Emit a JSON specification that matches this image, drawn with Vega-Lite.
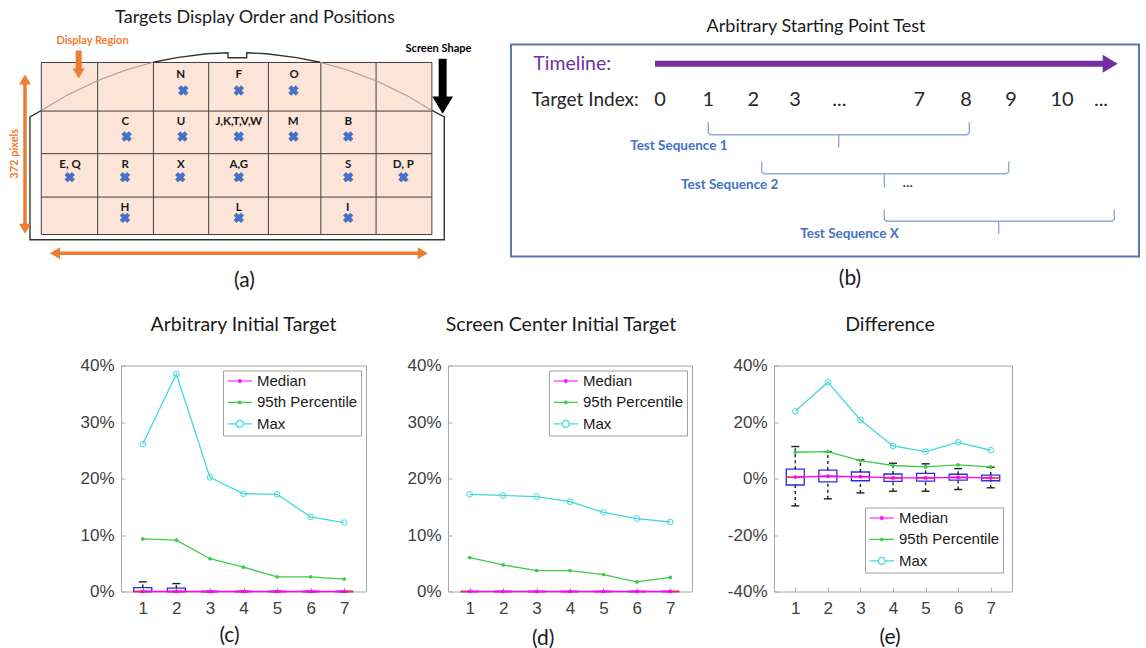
{
  "$schema": "https://vega.github.io/schema/vega-lite/v6.json",
  "background": "white",
  "padding": {"left": 0, "top": 8.5, "right": 0, "bottom": 2},
  "bounds": "flush",
  "spacing": 321,
  "config": {
    "axis": {"labelFont": "Liberation Sans", "labelFontSize": 17, "labelColor": "#404040", "ticks": false, "domain": false, "grid": false, "titleFont": "Lato", "titleFontSize": 21, "titleFontWeight": "normal", "titleColor": "#1a1a1a", "titleBaseline": "alphabetic", "titleAlign": "center"},
    "title": {"font": "Lato", "fontWeight": "normal", "color": "#1a1a1a", "baseline": "alphabetic", "frame": "group", "anchor": "middle"}
  },
  "datasets": {
    "a_bg": [{"x": 0, "x2": 7, "y": 0, "y2": 4}],
    "a_vl": [{"x": 0, "y": 0, "y2": 4}, {"x": 1.01, "y": 0, "y2": 4}, {"x": 2.01, "y": 0, "y2": 4}, {"x": 3, "y": 0, "y2": 4}, {"x": 4.07, "y": 0, "y2": 4}, {"x": 5.01, "y": 0, "y2": 4}, {"x": 6, "y": 0, "y2": 4}, {"x": 7, "y": 0, "y2": 4}],
    "a_hl": [{"y": 0, "x": 0, "x2": 7}, {"y": 1.13, "x": 0, "x2": 7}, {"y": 2.12, "x": 0, "x2": 7}, {"y": 3.13, "x": 0, "x2": 7}, {"y": 4, "x": 0, "x2": 7}],
    "a_outline": [
      {"part": "frame", "o": 0, "x": 0, "y": 1.116}, {"part": "frame", "o": 1, "x": -0.2025, "y": 1.263}, {"part": "frame", "o": 2, "x": -0.2025, "y": 4.123},
      {"part": "frame", "o": 3, "x": 7.222, "y": 4.123}, {"part": "frame", "o": 4, "x": 7.222, "y": 1.263}, {"part": "frame", "o": 5, "x": 7.0, "y": 1.116},
      {"part": "top", "o": 0, "x": 2.007, "y": -0.005}, {"part": "top", "o": 1, "x": 2.427, "y": -0.114}, {"part": "top", "o": 2, "x": 2.964, "y": -0.202},
      {"part": "top", "o": 3, "x": 3.346, "y": -0.228}, {"part": "top", "o": 4, "x": 3.346, "y": -0.109}, {"part": "top", "o": 5, "x": 3.681, "y": -0.109},
      {"part": "top", "o": 6, "x": 3.681, "y": -0.228}, {"part": "top", "o": 7, "x": 4.039, "y": -0.202}, {"part": "top", "o": 8, "x": 4.577, "y": -0.114},
      {"part": "top", "o": 9, "x": 4.996, "y": -0.005},
      {"part": "arcL", "o": 0, "x": 0, "y": 1.116}, {"part": "arcL", "o": 1, "x": 0.455, "y": 0.765}, {"part": "arcL", "o": 2, "x": 0.993, "y": 0.43},
      {"part": "arcL", "o": 3, "x": 1.53, "y": 0.17}, {"part": "arcL", "o": 4, "x": 2.007, "y": -0.005},
      {"part": "arcR", "o": 0, "x": 4.996, "y": -0.005}, {"part": "arcR", "o": 1, "x": 5.473, "y": 0.17}, {"part": "arcR", "o": 2, "x": 6.011, "y": 0.43},
      {"part": "arcR", "o": 3, "x": 6.548, "y": 0.765}, {"part": "arcR", "o": 4, "x": 7.0, "y": 1.116}
    ],
    "a_targets": [
      {"t": "N", "x": 2.545, "y": 0.651}, {"t": "F", "x": 3.54, "y": 0.651}, {"t": "O", "x": 4.52, "y": 0.651},
      {"t": "C", "x": 1.53, "y": 1.721}, {"t": "U", "x": 2.53, "y": 1.721}, {"t": "J,K,T,V,W", "x": 3.54, "y": 1.721}, {"t": "M", "x": 4.52, "y": 1.721}, {"t": "B", "x": 5.5, "y": 1.721},
      {"t": "E, Q", "x": 0.51, "y": 2.667}, {"t": "R", "x": 1.5, "y": 2.667}, {"t": "X", "x": 2.49, "y": 2.667}, {"t": "A,G", "x": 3.54, "y": 2.667}, {"t": "S", "x": 5.5, "y": 2.667}, {"t": "D, P", "x": 6.49, "y": 2.667},
      {"t": "H", "x": 1.5, "y": 3.612}, {"t": "L", "x": 3.54, "y": 3.612}, {"t": "I", "x": 5.5, "y": 3.612}
    ],
    "a_labels": [
      {"t": "N", "x": 2.5, "y": 0.356}, {"t": "F", "x": 3.54, "y": 0.356}, {"t": "O", "x": 4.53, "y": 0.356},
      {"t": "C", "x": 1.505, "y": 1.465}, {"t": "U", "x": 2.504, "y": 1.465}, {"t": "J,K,T,V,W", "x": 3.54, "y": 1.465}, {"t": "M", "x": 4.516, "y": 1.465}, {"t": "B", "x": 5.5, "y": 1.465},
      {"t": "E, Q", "x": 0.514, "y": 2.458}, {"t": "R", "x": 1.505, "y": 2.458}, {"t": "X", "x": 2.5, "y": 2.458}, {"t": "A,G", "x": 3.54, "y": 2.458}, {"t": "S", "x": 5.5, "y": 2.458}, {"t": "D, P", "x": 6.487, "y": 2.458},
      {"t": "H", "x": 1.5, "y": 3.458}, {"t": "L", "x": 3.54, "y": 3.458}, {"t": "I", "x": 5.49, "y": 3.458}
    ],
    "a_shafts": [
      {"a": "region", "x": 0.67, "y": -0.279, "x2": 0.67, "y2": 0.2},
      {"a": "height", "x": -0.292, "y": 0.45, "x2": -0.292, "y2": 3.83},
      {"a": "width", "x": 0.33, "y": 4.435, "x2": 6.75, "y2": 4.435},
      {"a": "screen", "x": 7.193, "y": -0.086, "x2": 7.193, "y2": 0.85}
    ],
    "a_heads": [
      {"a": "region", "dir": "down", "x": 0.67, "y": 0.372},
      {"a": "height", "dir": "up", "x": -0.292, "y": 0.279},
      {"a": "height", "dir": "down", "x": -0.292, "y": 3.984},
      {"a": "width", "dir": "left", "x": 0.156, "y": 4.435},
      {"a": "width", "dir": "right", "x": 6.925, "y": 4.435},
      {"a": "screen", "dir": "down", "x": 7.193, "y": 1.193}
    ],
    "a_notes": [
      {"a": "region", "t": "Display Region", "x": 0.918, "y": -0.419},
      {"a": "screen", "t": "Screen Shape", "x": 7.118, "y": -0.24}
    ],
    "a_side": [{"t": "372 pixels", "x": -0.471, "y": 2.123}],
    "b_timeline": [{"x": -0.109, "x2": 9.7, "y": 0.42}],
    "b_tip": [{"x": 9.95, "y": 0.42}],
    "b_heads": [
      {"k": "timeline", "t": "Timeline:", "x": -2.754, "y": 0.42},
      {"k": "index", "t": "Target Index:", "x": -2.79, "y": 1.217}
    ],
    "b_index": [
      {"t": "0", "x": 0, "y": 1.217}, {"t": "1", "x": 1.05, "y": 1.217}, {"t": "2", "x": 2.028, "y": 1.217}, {"t": "3", "x": 2.935, "y": 1.217},
      {"t": "...", "x": 3.898, "y": 1.217}, {"t": "7", "x": 5.637, "y": 1.217}, {"t": "8", "x": 6.652, "y": 1.217}, {"t": "9", "x": 7.63, "y": 1.217},
      {"t": "10", "x": 8.739, "y": 1.217}, {"t": "...", "x": 9.587, "y": 1.217}
    ],
    "b_braces": [
      {"b": 1, "o": 0, "x": 1.05, "y": 1.689}, {"b": 1, "o": 1, "x": 1.05, "y": 1.92}, {"b": 1, "o": 2, "x": 1.1, "y": 1.963}, {"b": 1, "o": 3, "x": 3.885, "y": 1.963},
      {"b": 1, "o": 4, "x": 3.885, "y": 2.233}, {"b": 1, "o": 5, "x": 3.885, "y": 1.963}, {"b": 1, "o": 6, "x": 6.674, "y": 1.963}, {"b": 1, "o": 7, "x": 6.724, "y": 1.92}, {"b": 1, "o": 8, "x": 6.724, "y": 1.689},
      {"b": 2, "o": 0, "x": 2.211, "y": 2.543}, {"b": 2, "o": 1, "x": 2.211, "y": 2.77}, {"b": 2, "o": 2, "x": 2.261, "y": 2.811}, {"b": 2, "o": 3, "x": 4.876, "y": 2.811},
      {"b": 2, "o": 4, "x": 4.876, "y": 3.102}, {"b": 2, "o": 5, "x": 4.876, "y": 2.811}, {"b": 2, "o": 6, "x": 7.53, "y": 2.811}, {"b": 2, "o": 7, "x": 7.58, "y": 2.77}, {"b": 2, "o": 8, "x": 7.58, "y": 2.543},
      {"b": 3, "o": 0, "x": 4.876, "y": 3.593}, {"b": 3, "o": 1, "x": 4.876, "y": 3.8}, {"b": 3, "o": 2, "x": 4.926, "y": 3.841}, {"b": 3, "o": 3, "x": 7.363, "y": 3.841},
      {"b": 3, "o": 4, "x": 7.363, "y": 4.115}, {"b": 3, "o": 5, "x": 7.363, "y": 3.841}, {"b": 3, "o": 6, "x": 9.826, "y": 3.841}, {"b": 3, "o": 7, "x": 9.876, "y": 3.8}, {"b": 3, "o": 8, "x": 9.876, "y": 3.593}
    ],
    "b_seq": [
      {"t": "Test Sequence 1", "x": 0.409, "y": 2.196},
      {"t": "Test Sequence 2", "x": 1.515, "y": 3.05},
      {"t": "Test Sequence X", "x": 4.12, "y": 4.115}
    ],
    "b_more": [{"t": "...", "x": 5.385, "y": 3.0}],
    "c_line": [
      {"i": 1, "s": "Median", "v": 0}, {"i": 2, "s": "Median", "v": 0}, {"i": 3, "s": "Median", "v": 0}, {"i": 4, "s": "Median", "v": 0}, {"i": 5, "s": "Median", "v": 0}, {"i": 6, "s": "Median", "v": 0}, {"i": 7, "s": "Median", "v": 0},
      {"i": 1, "s": "95th Percentile", "v": 9.3}, {"i": 2, "s": "95th Percentile", "v": 9.1}, {"i": 3, "s": "95th Percentile", "v": 5.8}, {"i": 4, "s": "95th Percentile", "v": 4.3}, {"i": 5, "s": "95th Percentile", "v": 2.6}, {"i": 6, "s": "95th Percentile", "v": 2.6}, {"i": 7, "s": "95th Percentile", "v": 2.2},
      {"i": 1, "s": "Max", "v": 26.1}, {"i": 2, "s": "Max", "v": 38.5}, {"i": 3, "s": "Max", "v": 20.2}, {"i": 4, "s": "Max", "v": 17.3}, {"i": 5, "s": "Max", "v": 17.2}, {"i": 6, "s": "Max", "v": 13.2}, {"i": 7, "s": "Max", "v": 12.2}
    ],
    "c_box": [
      {"i": 1, "q1": 0, "med": 0, "q3": 0.7, "lo": 0, "hi": 1.7},
      {"i": 2, "q1": 0, "med": 0, "q3": 0.6, "lo": 0, "hi": 1.4},
      {"i": 3, "q1": 0, "med": 0, "q3": 0, "lo": 0, "hi": 0},
      {"i": 4, "q1": 0, "med": 0, "q3": 0, "lo": 0, "hi": 0},
      {"i": 5, "q1": 0, "med": 0, "q3": 0, "lo": 0, "hi": 0},
      {"i": 6, "q1": 0, "med": 0, "q3": 0, "lo": 0, "hi": 0},
      {"i": 7, "q1": 0, "med": 0, "q3": 0, "lo": 0, "hi": 0}
    ],
    "d_line": [
      {"i": 1, "s": "Median", "v": 0}, {"i": 2, "s": "Median", "v": 0}, {"i": 3, "s": "Median", "v": 0}, {"i": 4, "s": "Median", "v": 0}, {"i": 5, "s": "Median", "v": 0}, {"i": 6, "s": "Median", "v": 0}, {"i": 7, "s": "Median", "v": 0},
      {"i": 1, "s": "95th Percentile", "v": 6.0}, {"i": 2, "s": "95th Percentile", "v": 4.7}, {"i": 3, "s": "95th Percentile", "v": 3.7}, {"i": 4, "s": "95th Percentile", "v": 3.7}, {"i": 5, "s": "95th Percentile", "v": 3.0}, {"i": 6, "s": "95th Percentile", "v": 1.7}, {"i": 7, "s": "95th Percentile", "v": 2.5},
      {"i": 1, "s": "Max", "v": 17.2}, {"i": 2, "s": "Max", "v": 17.0}, {"i": 3, "s": "Max", "v": 16.8}, {"i": 4, "s": "Max", "v": 15.9}, {"i": 5, "s": "Max", "v": 14.0}, {"i": 6, "s": "Max", "v": 12.9}, {"i": 7, "s": "Max", "v": 12.3}
    ],
    "d_box": [
      {"i": 1, "q1": 0, "med": 0, "q3": 0, "lo": 0, "hi": 0},
      {"i": 2, "q1": 0, "med": 0, "q3": 0, "lo": 0, "hi": 0},
      {"i": 3, "q1": 0, "med": 0, "q3": 0, "lo": 0, "hi": 0},
      {"i": 4, "q1": 0, "med": 0, "q3": 0, "lo": 0, "hi": 0},
      {"i": 5, "q1": 0, "med": 0, "q3": 0, "lo": 0, "hi": 0},
      {"i": 6, "q1": 0, "med": 0, "q3": 0, "lo": 0, "hi": 0},
      {"i": 7, "q1": 0, "med": 0, "q3": 0, "lo": 0, "hi": 0}
    ],
    "e_line": [
      {"i": 1, "s": "Median", "v": 0.5}, {"i": 2, "s": "Median", "v": 0.8}, {"i": 3, "s": "Median", "v": 0.65}, {"i": 4, "s": "Median", "v": 0.2}, {"i": 5, "s": "Median", "v": 0.2}, {"i": 6, "s": "Median", "v": 0.4}, {"i": 7, "s": "Median", "v": 0.2},
      {"i": 1, "s": "95th Percentile", "v": 9.3}, {"i": 2, "s": "95th Percentile", "v": 9.5}, {"i": 3, "s": "95th Percentile", "v": 6.3}, {"i": 4, "s": "95th Percentile", "v": 4.6}, {"i": 5, "s": "95th Percentile", "v": 4.1}, {"i": 6, "s": "95th Percentile", "v": 4.8}, {"i": 7, "s": "95th Percentile", "v": 4.1},
      {"i": 1, "s": "Max", "v": 23.8}, {"i": 2, "s": "Max", "v": 34.1}, {"i": 3, "s": "Max", "v": 20.7}, {"i": 4, "s": "Max", "v": 11.5}, {"i": 5, "s": "Max", "v": 9.5}, {"i": 6, "s": "Max", "v": 12.8}, {"i": 7, "s": "Max", "v": 10.0}
    ],
    "e_box": [
      {"i": 1, "q1": -2.3, "med": 0.5, "q3": 3.3, "lo": -9.7, "hi": 11.3},
      {"i": 2, "q1": -1.2, "med": 0.8, "q3": 3.0, "lo": -7.2, "hi": 9.5},
      {"i": 3, "q1": -0.8, "med": 0.65, "q3": 2.3, "lo": -5.1, "hi": 6.6},
      {"i": 4, "q1": -1.0, "med": 0.2, "q3": 1.6, "lo": -4.5, "hi": 5.4},
      {"i": 5, "q1": -0.9, "med": 0.2, "q3": 1.8, "lo": -4.5, "hi": 5.2},
      {"i": 6, "q1": -0.6, "med": 0.4, "q3": 1.5, "lo": -3.9, "hi": 3.5},
      {"i": 7, "q1": -0.8, "med": 0.2, "q3": 1.2, "lo": -3.3, "hi": 4.0}
    ]
  },
  "vconcat": [
    {
      "hconcat": [
        {
          "width": 472,
          "height": 212,
          "view": {"stroke": null},
          "title": {"text": "Targets Display Order and Positions", "fontSize": 18, "offset": 8.3, "dx": 19, "frame": "group"},
          "encoding": {
            "x": {"field": "x", "type": "quantitative", "scale": {"domain": [-0.74, 7.719], "nice": false, "zero": false}, "axis": {"title": "(a)", "labels": false, "titleX": 244, "titleY": 29.5}},
            "y": {"field": "y", "type": "quantitative", "scale": {"domain": [-0.4186, 4.5116], "reverse": true, "nice": false, "zero": false}, "axis": null}
          },
          "layer": [
            {"data": {"name": "a_bg"}, "mark": {"type": "rect", "fill": "#fce4d6"}, "encoding": {"x2": {"field": "x2"}, "y2": {"field": "y2"}}},
            {"data": {"name": "a_vl"}, "mark": {"type": "rule", "color": "#3f3f3f", "strokeWidth": 1}, "encoding": {"y2": {"field": "y2"}}},
            {"data": {"name": "a_hl"}, "mark": {"type": "rule", "color": "#3f3f3f", "strokeWidth": 1}, "encoding": {"x2": {"field": "x2"}}},
            {"data": {"name": "a_outline"}, "transform": [{"filter": "datum.part === 'arcL' || datum.part === 'arcR'"}], "mark": {"type": "line", "color": "#a99c92", "strokeWidth": 1.1}, "encoding": {"detail": {"field": "part"}, "order": {"field": "o"}}},
            {"data": {"name": "a_outline"}, "transform": [{"filter": "datum.part === 'frame' || datum.part === 'top'"}], "mark": {"type": "line", "color": "#333333", "strokeWidth": 1.4}, "encoding": {"detail": {"field": "part"}, "order": {"field": "o"}}},
            {"data": {"name": "a_targets"}, "mark": {"type": "point", "shape": "cross", "angle": 45, "filled": true, "size": 110, "color": "#4472c4", "opacity": 1}},
            {"data": {"name": "a_labels"}, "mark": {"type": "text", "font": "Lato", "fontWeight": "bold", "fontSize": 11.5, "color": "#1a1a1a", "align": "center", "baseline": "alphabetic"}, "encoding": {"text": {"field": "t"}}},
            {"data": {"name": "a_shafts"}, "transform": [{"filter": "datum.a === 'region'"}], "mark": {"type": "rule", "color": "#ed7d31", "strokeWidth": 6}, "encoding": {"x2": {"field": "x2"}, "y2": {"field": "y2"}}},
            {"data": {"name": "a_shafts"}, "transform": [{"filter": "datum.a === 'height' || datum.a === 'width'"}], "mark": {"type": "rule", "color": "#ed7d31", "strokeWidth": 3.5}, "encoding": {"x2": {"field": "x2"}, "y2": {"field": "y2"}}},
            {"data": {"name": "a_shafts"}, "transform": [{"filter": "datum.a === 'screen'"}], "mark": {"type": "rule", "color": "#000000", "strokeWidth": 8}, "encoding": {"x2": {"field": "x2"}, "y2": {"field": "y2"}}},
            {"data": {"name": "a_heads"}, "transform": [{"filter": "datum.a !== 'screen'"}], "mark": {"type": "point", "filled": true, "size": 144, "color": "#ed7d31", "opacity": 1},
             "encoding": {"shape": {"field": "dir", "type": "nominal", "scale": {"domain": ["down", "up", "left", "right"], "range": ["M0,0L-1,-1.67L1,-1.67Z", "M0,0L-1,1.67L1,1.67Z", "M0,0L1.67,-1L1.67,1Z", "M0,0L-1.67,-1L-1.67,1Z"]}, "legend": null}}},
            {"data": {"name": "a_heads"}, "transform": [{"filter": "datum.a === 'screen'"}], "mark": {"type": "point", "filled": true, "size": 430, "color": "#000000", "opacity": 1},
             "encoding": {"shape": {"field": "dir", "type": "nominal", "scale": {"domain": ["down", "up", "left", "right"], "range": ["M0,0L-1,-1.67L1,-1.67Z", "M0,0L-1,1.67L1,1.67Z", "M0,0L1.67,-1L1.67,1Z", "M0,0L-1.67,-1L-1.67,1Z"]}, "legend": null}}},
            {"data": {"name": "a_notes"}, "transform": [{"filter": "datum.a === 'region'"}], "mark": {"type": "text", "font": "Lato", "fontWeight": "bold", "fontSize": 11, "color": "#ed7d31", "align": "center", "baseline": "alphabetic"}, "encoding": {"text": {"field": "t"}}},
            {"data": {"name": "a_notes"}, "transform": [{"filter": "datum.a === 'screen'"}], "mark": {"type": "text", "font": "Lato", "fontWeight": "bold", "fontSize": 11, "color": "#000000", "align": "center", "baseline": "alphabetic"}, "encoding": {"text": {"field": "t"}}},
            {"data": {"name": "a_side"}, "mark": {"type": "text", "angle": 270, "font": "Lato", "fontWeight": "bold", "fontSize": 11, "color": "#ed7d31", "align": "center", "baseline": "middle"}, "encoding": {"text": {"field": "t"}}}
          ]
        },
        {
          "width": 628,
          "height": 212,
          "view": {"stroke": "#5a78b0", "strokeWidth": 2},
          "title": {"text": "Arbitrary Starting Point Test", "fontSize": 18, "offset": 8.8, "dx": -9, "frame": "group"},
          "encoding": {
            "x": {"field": "x", "type": "quantitative", "scale": {"domain": [-3.239, 10.413], "nice": false, "zero": false}, "axis": {"title": "(b)", "labels": false, "titleX": 338.5, "titleY": 27.5}},
            "y": {"field": "y", "type": "quantitative", "scale": {"domain": [0, 4.6087], "reverse": true, "nice": false, "zero": false}, "axis": null}
          },
          "layer": [
            {"data": {"name": "b_timeline"}, "mark": {"type": "rule", "color": "#7030a0", "strokeWidth": 6}, "encoding": {"x2": {"field": "x2"}}},
            {"data": {"name": "b_tip"}, "mark": {"type": "point", "shape": "M0,0L-1.67,-1L-1.67,1Z", "filled": true, "size": 324, "color": "#7030a0", "opacity": 1}},
            {"data": {"name": "b_braces"}, "mark": {"type": "line", "color": "#8faadc", "strokeWidth": 1.4}, "encoding": {"detail": {"field": "b"}, "order": {"field": "o"}}},
            {"data": {"name": "b_heads"}, "transform": [{"filter": "datum.k === 'timeline'"}], "mark": {"type": "text", "font": "Lato", "fontSize": 19.5, "color": "#7030a0", "align": "left", "baseline": "middle"}, "encoding": {"text": {"field": "t"}}},
            {"data": {"name": "b_heads"}, "transform": [{"filter": "datum.k === 'index'"}], "mark": {"type": "text", "font": "Lato", "fontSize": 19, "color": "#262626", "align": "left", "baseline": "middle"}, "encoding": {"text": {"field": "t"}}},
            {"data": {"name": "b_index"}, "mark": {"type": "text", "font": "Lato", "fontSize": 20, "color": "#262626", "align": "center", "baseline": "middle"}, "encoding": {"text": {"field": "t"}}},
            {"data": {"name": "b_seq"}, "mark": {"type": "text", "font": "Lato", "fontWeight": "bold", "fontSize": 13.5, "color": "#4472c4", "align": "center", "baseline": "middle"}, "encoding": {"text": {"field": "t"}}},
            {"data": {"name": "b_more"}, "mark": {"type": "text", "font": "Lato", "fontSize": 15, "color": "#262626", "align": "center", "baseline": "middle"}, "encoding": {"text": {"field": "t"}}}
          ]
        }
      ],
      "spacing": 39,
      "bounds": "flush"
    },
    {
      "hconcat": [
        {"width": 39, "height": 226, "view": {"stroke": null}, "data": {"values": []}, "mark": "point", "encoding": {}},
        {
          "width": 245,
          "height": 226,
          "view": {"stroke": "#a8a8a8"},
          "title": {"text": "Arbitrary Initial Target", "fontSize": 19.5, "offset": 21.5, "frame": "group"},
          "encoding": {"x": {"field": "i", "type": "quantitative", "scale": {"domain": [0.5, 7.5], "nice": false, "zero": false}, "axis": {"values": [1, 2, 3, 4, 5, 6, 7], "title": "(c)", "titleX": 108, "titleY": 49.5, "ticks": true, "tickSize": -4, "tickColor": "#a8a8a8", "labelPadding": 13}}},
          "layer": [
            {"data": {"name": "c_box"}, "mark": {"type": "bar", "width": 18, "fill": "#ffffff", "fillOpacity": 0, "stroke": "#2b2be6", "strokeWidth": 1.3},
             "encoding": {"y": {"field": "q1", "type": "quantitative", "scale": {"domain": [0, 40], "nice": false, "zero": false}, "axis": {"values": [0, 10, 20, 30, 40], "labelExpr": "datum.value + '%'", "title": null, "ticks": true, "tickSize": -4, "tickColor": "#a8a8a8", "labelPadding": 11}}, "y2": {"field": "q3"}}},
            {"data": {"name": "c_box"}, "mark": {"type": "rule", "color": "#1f1f1f", "strokeWidth": 1.4, "strokeDash": [3, 3]}, "encoding": {"y": {"field": "q3", "type": "quantitative", "scale": {"domain": [0, 40], "nice": false, "zero": false}, "axis": {"values": [0, 10, 20, 30, 40], "labelExpr": "datum.value + '%'", "title": null, "ticks": true, "tickSize": -4, "tickColor": "#a8a8a8", "labelPadding": 11}}, "y2": {"field": "hi"}}},
            {"data": {"name": "c_box"}, "mark": {"type": "rule", "color": "#1f1f1f", "strokeWidth": 1.4, "strokeDash": [3, 3]}, "encoding": {"y": {"field": "lo", "type": "quantitative", "scale": {"domain": [0, 40], "nice": false, "zero": false}, "axis": {"values": [0, 10, 20, 30, 40], "labelExpr": "datum.value + '%'", "title": null, "ticks": true, "tickSize": -4, "tickColor": "#a8a8a8", "labelPadding": 11}}, "y2": {"field": "q1"}}},
            {"data": {"name": "c_box"}, "mark": {"type": "tick", "orient": "horizontal", "size": 8, "thickness": 1.4, "color": "#1f1f1f", "opacity": 1}, "encoding": {"y": {"field": "hi", "type": "quantitative", "scale": {"domain": [0, 40], "nice": false, "zero": false}, "axis": {"values": [0, 10, 20, 30, 40], "labelExpr": "datum.value + '%'", "title": null, "ticks": true, "tickSize": -4, "tickColor": "#a8a8a8", "labelPadding": 11}}}},
            {"data": {"name": "c_box"}, "mark": {"type": "tick", "orient": "horizontal", "size": 8, "thickness": 1.4, "color": "#1f1f1f", "opacity": 1}, "encoding": {"y": {"field": "lo", "type": "quantitative", "scale": {"domain": [0, 40], "nice": false, "zero": false}, "axis": {"values": [0, 10, 20, 30, 40], "labelExpr": "datum.value + '%'", "title": null, "ticks": true, "tickSize": -4, "tickColor": "#a8a8a8", "labelPadding": 11}}}},
            {"data": {"name": "c_box"}, "mark": {"type": "tick", "orient": "horizontal", "size": 18, "thickness": 1.6, "color": "#ff2a2a", "opacity": 1}, "encoding": {"y": {"field": "med", "type": "quantitative", "scale": {"domain": [0, 40], "nice": false, "zero": false}, "axis": {"values": [0, 10, 20, 30, 40], "labelExpr": "datum.value + '%'", "title": null, "ticks": true, "tickSize": -4, "tickColor": "#a8a8a8", "labelPadding": 11}}}},
            {"data": {"name": "c_line"}, "mark": {"type": "line", "strokeWidth": 1.3},
             "encoding": {"y": {"field": "v", "type": "quantitative", "scale": {"domain": [0, 40], "nice": false, "zero": false}, "axis": {"values": [0, 10, 20, 30, 40], "labelExpr": "datum.value + '%'", "title": null, "ticks": true, "tickSize": -4, "tickColor": "#a8a8a8", "labelPadding": 11}},
              "color": {"field": "s", "type": "nominal", "scale": {"domain": ["Median", "95th Percentile", "Max"], "range": ["#ff00ff", "#3dcb4a", "#40d9d9"]},
               "legend": {"title": null, "orient": "top-right", "offset": 5, "padding": 3, "strokeColor": "#a0a0a0", "fillColor": "#ffffff", "cornerRadius": 0, "labelFont": "Liberation Sans", "labelFontSize": 15, "labelColor": "#1a1a1a", "labelOffset": 16, "rowPadding": 5.4, "symbolSize": 60, "symbolStrokeWidth": 1.2,
                "encode": {"symbols": {"update": {"shape": {"signal": "datum.value === 'Max' ? 'M-1.52,0H0.72M2.52,0H4.76M2.52,0A0.9,0.9 0 1,0 0.72,0A0.9,0.9 0 1,0 2.52,0' : 'M-1.52,0H4.76M1.97,0A0.35,0.35 0 1,0 1.27,0A0.35,0.35 0 1,0 1.97,0'"}, "fill": {"value": "transparent"}}}}}}}},
            {"data": {"name": "c_line"}, "transform": [{"filter": "datum.s === 'Median'"}], "mark": {"type": "point", "filled": true, "size": 14, "color": "#ff00ff", "opacity": 1}, "encoding": {"y": {"field": "v", "type": "quantitative", "scale": {"domain": [0, 40], "nice": false, "zero": false}, "axis": {"values": [0, 10, 20, 30, 40], "labelExpr": "datum.value + '%'", "title": null, "ticks": true, "tickSize": -4, "tickColor": "#a8a8a8", "labelPadding": 11}}}},
            {"data": {"name": "c_line"}, "transform": [{"filter": "datum.s === '95th Percentile'"}], "mark": {"type": "point", "filled": true, "size": 14, "color": "#3dcb4a", "opacity": 1}, "encoding": {"y": {"field": "v", "type": "quantitative", "scale": {"domain": [0, 40], "nice": false, "zero": false}, "axis": {"values": [0, 10, 20, 30, 40], "labelExpr": "datum.value + '%'", "title": null, "ticks": true, "tickSize": -4, "tickColor": "#a8a8a8", "labelPadding": 11}}}},
            {"data": {"name": "c_line"}, "transform": [{"filter": "datum.s === 'Max'"}], "mark": {"type": "point", "filled": false, "size": 32, "strokeWidth": 1, "color": "#40d9d9", "opacity": 1}, "encoding": {"y": {"field": "v", "type": "quantitative", "scale": {"domain": [0, 40], "nice": false, "zero": false}, "axis": {"values": [0, 10, 20, 30, 40], "labelExpr": "datum.value + '%'", "title": null, "ticks": true, "tickSize": -4, "tickColor": "#a8a8a8", "labelPadding": 11}}}}
          ]
        },
        {
          "width": 244,
          "height": 226,
          "view": {"stroke": "#a8a8a8"},
          "title": {"text": "Screen Center Initial Target", "fontSize": 19.5, "offset": 21.5, "dx": -9, "frame": "group"},
          "encoding": {"x": {"field": "i", "type": "quantitative", "scale": {"domain": [0.5, 7.5], "nice": false, "zero": false}, "axis": {"values": [1, 2, 3, 4, 5, 6, 7], "title": "(d)", "titleX": 94.7, "titleY": 52.5, "ticks": true, "tickSize": -4, "tickColor": "#a8a8a8", "labelPadding": 13}}},
          "layer": [
            {"data": {"name": "d_box"}, "mark": {"type": "bar", "width": 18, "fill": "#ffffff", "fillOpacity": 0, "stroke": "#2b2be6", "strokeWidth": 1.3},
             "encoding": {"y": {"field": "q1", "type": "quantitative", "scale": {"domain": [0, 40], "nice": false, "zero": false}, "axis": {"values": [0, 10, 20, 30, 40], "labelExpr": "datum.value + '%'", "title": null, "ticks": true, "tickSize": -4, "tickColor": "#a8a8a8", "labelPadding": 11}}, "y2": {"field": "q3"}}},
            {"data": {"name": "d_box"}, "mark": {"type": "tick", "orient": "horizontal", "size": 18, "thickness": 1.6, "color": "#ff2a2a", "opacity": 1}, "encoding": {"y": {"field": "med", "type": "quantitative", "scale": {"domain": [0, 40], "nice": false, "zero": false}, "axis": {"values": [0, 10, 20, 30, 40], "labelExpr": "datum.value + '%'", "title": null, "ticks": true, "tickSize": -4, "tickColor": "#a8a8a8", "labelPadding": 11}}}},
            {"data": {"name": "d_line"}, "mark": {"type": "line", "strokeWidth": 1.3},
             "encoding": {"y": {"field": "v", "type": "quantitative", "scale": {"domain": [0, 40], "nice": false, "zero": false}, "axis": {"values": [0, 10, 20, 30, 40], "labelExpr": "datum.value + '%'", "title": null, "ticks": true, "tickSize": -4, "tickColor": "#a8a8a8", "labelPadding": 11}},
              "color": {"field": "s", "type": "nominal", "scale": {"domain": ["Median", "95th Percentile", "Max"], "range": ["#ff00ff", "#3dcb4a", "#40d9d9"]},
               "legend": {"title": null, "orient": "top-right", "offset": 5, "padding": 3, "strokeColor": "#a0a0a0", "fillColor": "#ffffff", "cornerRadius": 0, "labelFont": "Liberation Sans", "labelFontSize": 15, "labelColor": "#1a1a1a", "labelOffset": 16, "rowPadding": 5.4, "symbolSize": 60, "symbolStrokeWidth": 1.2,
                "encode": {"symbols": {"update": {"shape": {"signal": "datum.value === 'Max' ? 'M-1.52,0H0.72M2.52,0H4.76M2.52,0A0.9,0.9 0 1,0 0.72,0A0.9,0.9 0 1,0 2.52,0' : 'M-1.52,0H4.76M1.97,0A0.35,0.35 0 1,0 1.27,0A0.35,0.35 0 1,0 1.97,0'"}, "fill": {"value": "transparent"}}}}}}}},
            {"data": {"name": "d_line"}, "transform": [{"filter": "datum.s === 'Median'"}], "mark": {"type": "point", "filled": true, "size": 14, "color": "#ff00ff", "opacity": 1}, "encoding": {"y": {"field": "v", "type": "quantitative", "scale": {"domain": [0, 40], "nice": false, "zero": false}, "axis": {"values": [0, 10, 20, 30, 40], "labelExpr": "datum.value + '%'", "title": null, "ticks": true, "tickSize": -4, "tickColor": "#a8a8a8", "labelPadding": 11}}}},
            {"data": {"name": "d_line"}, "transform": [{"filter": "datum.s === '95th Percentile'"}], "mark": {"type": "point", "filled": true, "size": 14, "color": "#3dcb4a", "opacity": 1}, "encoding": {"y": {"field": "v", "type": "quantitative", "scale": {"domain": [0, 40], "nice": false, "zero": false}, "axis": {"values": [0, 10, 20, 30, 40], "labelExpr": "datum.value + '%'", "title": null, "ticks": true, "tickSize": -4, "tickColor": "#a8a8a8", "labelPadding": 11}}}},
            {"data": {"name": "d_line"}, "transform": [{"filter": "datum.s === 'Max'"}], "mark": {"type": "point", "filled": false, "size": 32, "strokeWidth": 1, "color": "#40d9d9", "opacity": 1}, "encoding": {"y": {"field": "v", "type": "quantitative", "scale": {"domain": [0, 40], "nice": false, "zero": false}, "axis": {"values": [0, 10, 20, 30, 40], "labelExpr": "datum.value + '%'", "title": null, "ticks": true, "tickSize": -4, "tickColor": "#a8a8a8", "labelPadding": 11}}}}
          ]
        },
        {
          "width": 238,
          "height": 226,
          "view": {"stroke": "#a8a8a8"},
          "title": {"text": "Difference", "fontSize": 19.5, "offset": 21.5, "dx": -3, "frame": "group"},
          "encoding": {"x": {"field": "i", "type": "quantitative", "scale": {"domain": [0.5, 7.5], "nice": false, "zero": false}, "axis": {"values": [1, 2, 3, 4, 5, 6, 7], "title": "(e)", "titleX": 115.5, "titleY": 51.5, "ticks": true, "tickSize": -4, "tickColor": "#a8a8a8", "labelPadding": 13}}},
          "layer": [
            {"data": {"name": "e_box"}, "mark": {"type": "bar", "width": 18, "fill": "#ffffff", "fillOpacity": 0, "stroke": "#2b2be6", "strokeWidth": 1.3},
             "encoding": {"y": {"field": "q1", "type": "quantitative", "scale": {"domain": [-40, 40], "nice": false, "zero": false}, "axis": {"values": [-40, -20, 0, 20, 40], "labelExpr": "datum.value + '%'", "title": null, "ticks": true, "tickSize": -4, "tickColor": "#a8a8a8", "labelPadding": 11}}, "y2": {"field": "q3"}}},
            {"data": {"name": "e_box"}, "mark": {"type": "rule", "color": "#1f1f1f", "strokeWidth": 1.4, "strokeDash": [3, 3]}, "encoding": {"y": {"field": "q3", "type": "quantitative", "scale": {"domain": [-40, 40], "nice": false, "zero": false}, "axis": {"values": [-40, -20, 0, 20, 40], "labelExpr": "datum.value + '%'", "title": null, "ticks": true, "tickSize": -4, "tickColor": "#a8a8a8", "labelPadding": 11}}, "y2": {"field": "hi"}}},
            {"data": {"name": "e_box"}, "mark": {"type": "rule", "color": "#1f1f1f", "strokeWidth": 1.4, "strokeDash": [3, 3]}, "encoding": {"y": {"field": "lo", "type": "quantitative", "scale": {"domain": [-40, 40], "nice": false, "zero": false}, "axis": {"values": [-40, -20, 0, 20, 40], "labelExpr": "datum.value + '%'", "title": null, "ticks": true, "tickSize": -4, "tickColor": "#a8a8a8", "labelPadding": 11}}, "y2": {"field": "q1"}}},
            {"data": {"name": "e_box"}, "mark": {"type": "tick", "orient": "horizontal", "size": 8, "thickness": 1.4, "color": "#1f1f1f", "opacity": 1}, "encoding": {"y": {"field": "hi", "type": "quantitative", "scale": {"domain": [-40, 40], "nice": false, "zero": false}, "axis": {"values": [-40, -20, 0, 20, 40], "labelExpr": "datum.value + '%'", "title": null, "ticks": true, "tickSize": -4, "tickColor": "#a8a8a8", "labelPadding": 11}}}},
            {"data": {"name": "e_box"}, "mark": {"type": "tick", "orient": "horizontal", "size": 8, "thickness": 1.4, "color": "#1f1f1f", "opacity": 1}, "encoding": {"y": {"field": "lo", "type": "quantitative", "scale": {"domain": [-40, 40], "nice": false, "zero": false}, "axis": {"values": [-40, -20, 0, 20, 40], "labelExpr": "datum.value + '%'", "title": null, "ticks": true, "tickSize": -4, "tickColor": "#a8a8a8", "labelPadding": 11}}}},
            {"data": {"name": "e_box"}, "mark": {"type": "tick", "orient": "horizontal", "size": 18, "thickness": 1.6, "color": "#ff2a2a", "opacity": 1}, "encoding": {"y": {"field": "med", "type": "quantitative", "scale": {"domain": [-40, 40], "nice": false, "zero": false}, "axis": {"values": [-40, -20, 0, 20, 40], "labelExpr": "datum.value + '%'", "title": null, "ticks": true, "tickSize": -4, "tickColor": "#a8a8a8", "labelPadding": 11}}}},
            {"data": {"name": "e_line"}, "mark": {"type": "line", "strokeWidth": 1.3},
             "encoding": {"y": {"field": "v", "type": "quantitative", "scale": {"domain": [-40, 40], "nice": false, "zero": false}, "axis": {"values": [-40, -20, 0, 20, 40], "labelExpr": "datum.value + '%'", "title": null, "ticks": true, "tickSize": -4, "tickColor": "#a8a8a8", "labelPadding": 11}},
              "color": {"field": "s", "type": "nominal", "scale": {"domain": ["Median", "95th Percentile", "Max"], "range": ["#ff00ff", "#3dcb4a", "#40d9d9"]},
               "legend": {"title": null, "orient": "none", "legendX": 91, "legendY": 142, "padding": 3, "strokeColor": "#a0a0a0", "fillColor": "#ffffff", "cornerRadius": 0, "labelFont": "Liberation Sans", "labelFontSize": 15, "labelColor": "#1a1a1a", "labelOffset": 16, "rowPadding": 5.4, "symbolSize": 60, "symbolStrokeWidth": 1.2,
                "encode": {"symbols": {"update": {"shape": {"signal": "datum.value === 'Max' ? 'M-1.52,0H0.72M2.52,0H4.76M2.52,0A0.9,0.9 0 1,0 0.72,0A0.9,0.9 0 1,0 2.52,0' : 'M-1.52,0H4.76M1.97,0A0.35,0.35 0 1,0 1.27,0A0.35,0.35 0 1,0 1.97,0'"}, "fill": {"value": "transparent"}}}}}}}},
            {"data": {"name": "e_line"}, "transform": [{"filter": "datum.s === 'Median'"}], "mark": {"type": "point", "filled": true, "size": 14, "color": "#ff00ff", "opacity": 1}, "encoding": {"y": {"field": "v", "type": "quantitative", "scale": {"domain": [-40, 40], "nice": false, "zero": false}, "axis": {"values": [-40, -20, 0, 20, 40], "labelExpr": "datum.value + '%'", "title": null, "ticks": true, "tickSize": -4, "tickColor": "#a8a8a8", "labelPadding": 11}}}},
            {"data": {"name": "e_line"}, "transform": [{"filter": "datum.s === '95th Percentile'"}], "mark": {"type": "point", "filled": true, "size": 14, "color": "#3dcb4a", "opacity": 1}, "encoding": {"y": {"field": "v", "type": "quantitative", "scale": {"domain": [-40, 40], "nice": false, "zero": false}, "axis": {"values": [-40, -20, 0, 20, 40], "labelExpr": "datum.value + '%'", "title": null, "ticks": true, "tickSize": -4, "tickColor": "#a8a8a8", "labelPadding": 11}}}},
            {"data": {"name": "e_line"}, "transform": [{"filter": "datum.s === 'Max'"}], "mark": {"type": "point", "filled": false, "size": 32, "strokeWidth": 1, "color": "#40d9d9", "opacity": 1}, "encoding": {"y": {"field": "v", "type": "quantitative", "scale": {"domain": [-40, 40], "nice": false, "zero": false}, "axis": {"values": [-40, -20, 0, 20, 40], "labelExpr": "datum.value + '%'", "title": null, "ticks": true, "tickSize": -4, "tickColor": "#a8a8a8", "labelPadding": 11}}}}
          ]
        }
      ],
      "spacing": 82,
      "bounds": "flush",
      "resolve": {"scale": {"color": "independent"}, "legend": {"color": "independent"}}
    }
  ]
}
